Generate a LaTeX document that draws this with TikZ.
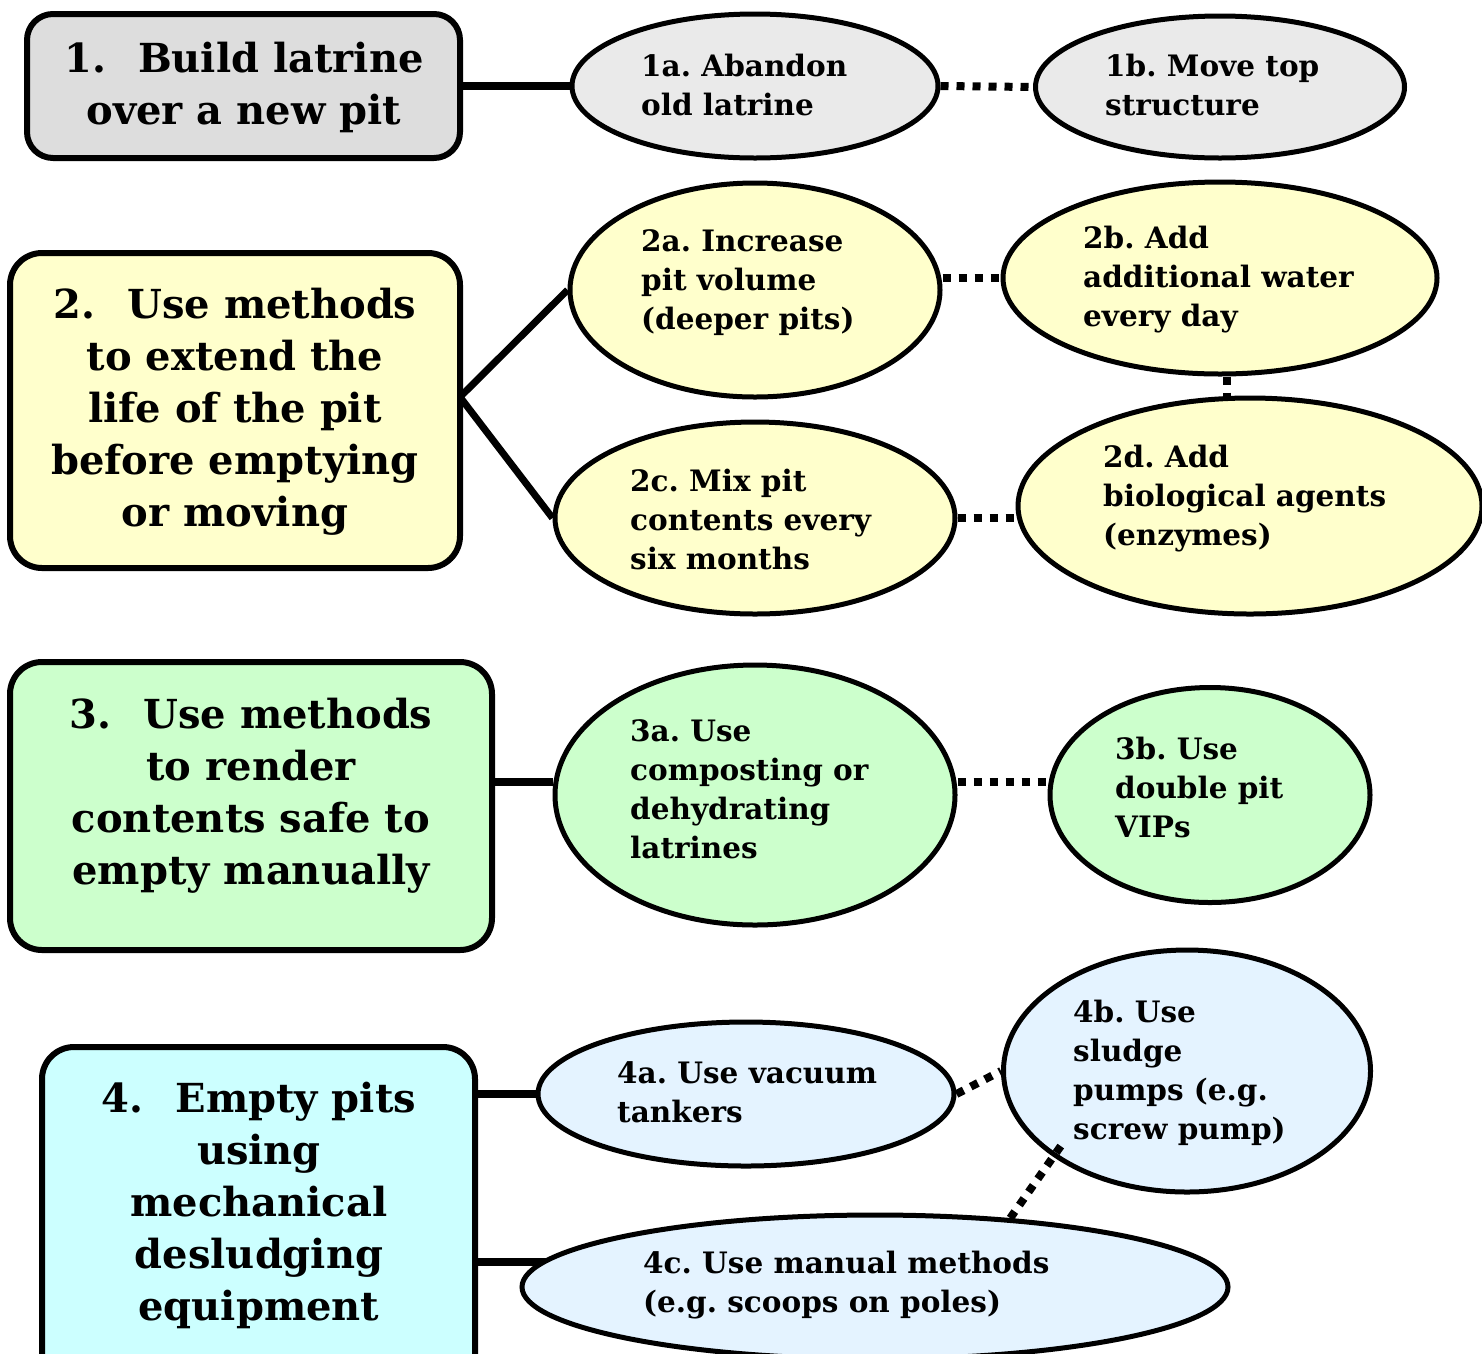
\documentclass[tikz,border=0pt]{standalone}
\usepackage{fontspec}
\setmainfont{DejaVu Serif}
\usetikzlibrary{shapes.geometric,backgrounds}
\definecolor{boxgray}{HTML}{DDDDDD}
\definecolor{ellgray}{HTML}{EAEAEA}
\definecolor{boxyel}{HTML}{FFFFCC}
\definecolor{boxgrn}{HTML}{CCFFCC}
\definecolor{boxcyan}{HTML}{CCFFFF}
\definecolor{ellblue}{HTML}{E4F3FF}
\frenchspacing
\begin{document}
\begin{tikzpicture}[x=1pt,y=-1pt,
  mainbox/.style={draw=black, line width=6pt, rounded corners=32pt, inner sep=0pt},
  ell/.style={draw=black, line width=5pt, ellipse, inner sep=0pt},
  btxt/.style={align=center, inner sep=0pt, font=\bfseries\fontsize{40}{52}\selectfont},
  etxt/.style={align=left, inner sep=0pt, anchor=west, font=\bfseries\fontsize{29.5}{39}\selectfont},
  solidcon/.style={line width=8pt},
  dotcon/.style={line width=8pt, dash pattern=on 8pt off 8pt}]
\useasboundingbox (0,0) rectangle (1482,1353);
% main boxes
\node[mainbox, fill=boxgray, minimum width=433pt, minimum height=144pt, rounded corners=26pt] (b1) at (243.5,86) {};
\node[btxt] (t1) at (244,87) {1.\hspace{0.8em}Build latrine\\over a new pit};
\node[mainbox, fill=boxyel, minimum width=450pt, minimum height=315pt] (b2) at (235,410.5) {};
\node[btxt] (t2) at (235,412) {2.\hspace{0.8em}Use methods\\to extend the\\life of the pit\\before emptying\\or moving};
\node[mainbox, fill=boxgrn, minimum width=482pt, minimum height=288pt] (b3) at (251,806) {};
\node[btxt] (t3) at (251,796) {3.\hspace{0.8em}Use methods\\to render\\contents safe to\\empty manually};
\node[mainbox, fill=boxcyan, minimum width=433pt, minimum height=360pt] (b4) at (258.5,1227) {};
\node[btxt] (t4) at (259,1205) {4.\hspace{0.8em}Empty pits\\using\\mechanical\\desludging\\equipment};
% ellipses
\node[ell, fill=ellgray, minimum width=366pt, minimum height=144pt] (e1a) at (755,86) {};
\node[etxt] (t1a) at (641,85) {1a. Abandon\\old latrine};
\node[ell, fill=ellgray, minimum width=369pt, minimum height=142pt] (e1b) at (1220,87) {};
\node[etxt] (t1b) at (1105,85) {1b. Move top\\structure};
\node[ell, fill=boxyel, minimum width=370pt, minimum height=214pt] (e2a) at (755,290) {};
\node[etxt] (t2a) at (641,283) {2a. Increase\\pit volume\\(deeper pits)};
\node[ell, fill=boxyel, minimum width=434pt, minimum height=192pt] (e2b) at (1220,278) {};
\node[etxt] (t2b) at (1083,280) {2b. Add\\additional water\\every day};
\node[ell, fill=boxyel, minimum width=400pt, minimum height=192pt] (e2c) at (755,518) {};
\node[etxt] (t2c) at (630,519) {2c. Mix pit\\contents every\\six months};
\node[ell, fill=boxyel, minimum width=464pt, minimum height=216pt] (e2d) at (1250,506) {};
\node[etxt] (t2d) at (1103,499) {2d. Add\\biological agents\\(enzymes)};
\node[ell, fill=boxgrn, minimum width=400pt, minimum height=260pt] (e3a) at (755,795) {};
\node[etxt] (t3a) at (630,789) {3a. Use\\composting or\\dehydrating\\latrines};
\node[ell, fill=boxgrn, minimum width=320pt, minimum height=215pt] (e3b) at (1210,795) {};
\node[etxt] (t3b) at (1115,787) {3b. Use\\double pit\\VIPs};
\node[ell, fill=ellblue, minimum width=416pt, minimum height=144pt] (e4a) at (746,1094) {};
\node[etxt] (t4a) at (617,1092) {4a. Use vacuum\\tankers};
\node[ell, fill=ellblue, minimum width=367pt, minimum height=242pt] (e4b) at (1187,1071) {};
\node[etxt] (t4b) at (1073,1073) {4b. Use\\sludge\\pumps (e.g.\\screw pump)};
\node[ell, fill=ellblue, minimum width=706pt, minimum height=144pt] (e4c) at (875,1287) {};
\node[etxt] (t4c) at (643,1285) {4c. Use manual methods\\(e.g. scoops on poles)};
% connectors
\coordinate (b2j) at (460,397);
\coordinate (p4b) at (1065,1140);
\begin{scope}[on background layer]
\draw[solidcon] (b1.east) -- (e1a.west);
\draw[solidcon, line width=7pt] (b2j) -- (e2a.west);
\draw[solidcon, line width=7pt] (b2j) -- (e2c.west);
\draw[solidcon] ([yshift=24pt]b3.east) -- ([yshift=13pt]e3a.west);
\draw[solidcon] ([yshift=133pt]b4.east) -- (e4a.west);
\draw[solidcon] ([yshift=-35pt]b4.east) -- ([yshift=-35pt]b4.east -| e4c.center);
\draw[dotcon] (e1a.east) -- (e1b.west);
\draw[dotcon] (e2a.east |- e2b.west) -- (e2b.west);
\draw[dotcon] (e2c.east) -- (e2c.east -| e2d.west);
\draw[dotcon] ([xshift=7pt]e2b.south) -- ([xshift=7pt]e2b.south |- e2d.north);
\draw[dotcon] ([yshift=13pt]e3a.east) -- ([yshift=13pt]e3b.west);
\draw[dotcon] (e4a.east) -- (e4b.west);
\end{scope}
\draw[dotcon] (e4c.27) -- (p4b);
\end{tikzpicture}
\end{document}
